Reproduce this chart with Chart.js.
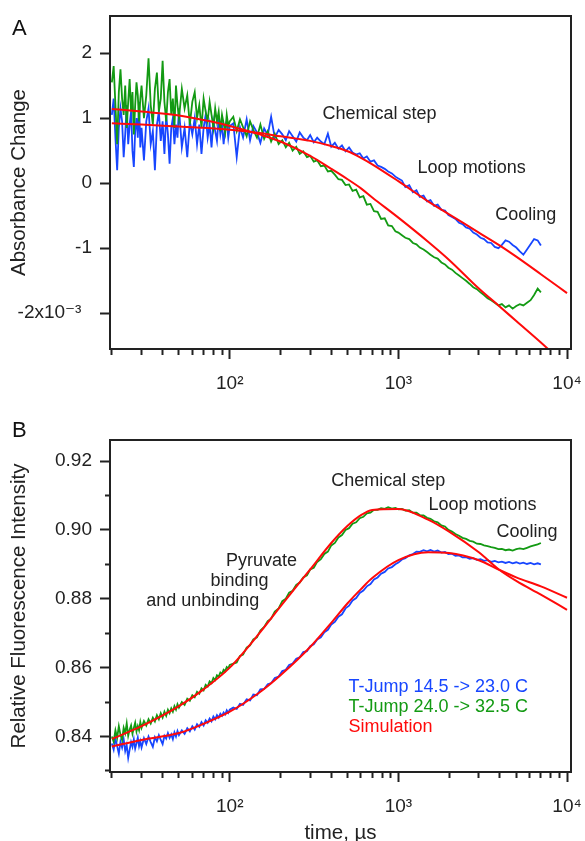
<!DOCTYPE html>
<html><head><meta charset="utf-8">
<script src="https://cdn.jsdelivr.net/npm/chart.js@4.4.1/dist/chart.umd.min.js"></script>
<style>
html,body{margin:0;padding:0;background:#fff;}
#wrap{position:relative;width:585px;height:841px;overflow:hidden;background:#fff;}
canvas{position:absolute;left:0;}
#cA{top:0;} #cB{top:400px;}
</style></head><body>
<div id="wrap"><canvas id="cA" width="585" height="400"></canvas><canvas id="cB" width="585" height="441"></canvas></div>
<script>
// ---------- data (time in microseconds) ----------
const times = [20,20.5,21,21.5,22,22.5,23,23.5,24,24.5,25,25.5,26,26.5,27,27.5,28,28.5,29,29.5,30,
31,32,33,34,35,36,37,38,39,40,41,42,43,44,45,46,47,48,49,50,
52,54,56,58,60,62,64,66,68,70,72,74,76,78,80,82,84,86,88,90,92,94,96,98,100,
105,110,115,120,126,132,138,145,152,160,168,176,185,195,
205,215,225,236,248,260,273,287,300,315,330,347,364,382,400,
420,441,463,486,510,535,562,590,620,650,683,717,753,790,830,870,915,960,1000,
1050,1100,1160,1220,1280,1340,1410,1480,1550,1630,1710,1800,1890,1980,
2080,2180,2290,2400,2520,2650,2780,2920,3070,3220,3380,3550,3730,3920,
4110,4320,4530,4760,5000,5250,5510,5790,6080,6380,6700,7000];

// Panel A: absorbance change (x10^-3)
const absBlue = [1.05,1.30,0.70,0.20,0.85,1.15,0.95,0.40,0.75,1.20,0.60,0.90,1.10,0.50,0.25,0.80,1.00,0.70,1.25,0.55,0.85,
0.35,0.95,1.15,0.60,0.80,0.20,0.90,1.10,0.65,0.95,0.45,1.05,0.75,0.30,0.85,1.00,0.60,0.90,0.70,1.15,
0.55,0.85,0.40,0.95,0.75,1.00,0.60,0.90,0.45,0.85,1.05,0.70,0.90,0.55,0.95,0.80,0.65,1.00,0.75,0.90,0.60,0.85,0.95,0.70,0.88,
0.92,0.40,0.86,0.70,0.98,0.66,0.88,0.78,0.62,0.84,0.74,1.02,0.70,0.82,
0.75,0.66,0.80,0.72,0.64,0.78,0.70,0.66,0.74,0.63,0.70,0.64,0.60,0.76,0.56,
0.62,0.53,0.58,0.49,0.55,0.47,0.44,0.46,0.38,0.41,0.33,0.35,0.27,0.25,0.22,0.18,0.15,0.10,0.07,
0.04,-0.06,-0.03,-0.14,-0.11,-0.21,-0.19,-0.28,-0.26,-0.35,-0.33,-0.41,-0.42,-0.49,
-0.52,-0.55,-0.61,-0.63,-0.68,-0.70,-0.76,-0.79,-0.84,-0.86,-0.91,-0.92,-0.98,-1.00,
-0.95,-0.88,-0.90,-0.95,-0.99,-1.05,-1.10,-1.02,-0.94,-0.86,-0.88,-0.96];
const absGreen = [1.55,1.80,1.20,0.60,1.40,1.75,1.30,1.05,1.50,0.85,1.25,1.60,1.10,1.40,0.75,1.20,1.55,1.35,0.95,1.30,1.50,
1.00,1.35,1.92,1.20,0.90,1.45,1.70,1.10,1.30,1.88,1.25,0.95,1.40,1.60,1.05,1.30,0.85,1.50,1.20,1.00,
1.45,1.15,1.35,0.90,1.25,1.40,1.00,1.20,0.85,1.30,1.10,0.95,1.25,1.05,0.85,1.15,0.95,1.10,0.80,1.05,0.92,0.78,1.05,0.88,0.95,
1.02,0.80,0.98,0.86,0.72,0.95,0.82,0.70,0.90,0.68,0.80,0.64,0.76,0.60,
0.66,0.55,0.62,0.50,0.56,0.45,0.49,0.40,0.42,0.33,0.35,0.26,0.27,0.18,0.19,
0.13,0.06,0.05,-0.03,-0.02,-0.12,-0.10,-0.22,-0.20,-0.33,-0.32,-0.43,-0.44,-0.55,-0.54,-0.65,-0.66,-0.74,-0.76,
-0.80,-0.84,-0.86,-0.92,-0.94,-0.99,-1.02,-1.06,-1.10,-1.14,-1.16,-1.22,-1.25,-1.30,
-1.33,-1.38,-1.42,-1.46,-1.50,-1.55,-1.60,-1.63,-1.68,-1.72,-1.77,-1.80,-1.84,-1.88,
-1.86,-1.91,-1.88,-1.93,-1.89,-1.86,-1.88,-1.84,-1.80,-1.72,-1.62,-1.68];

const simTimes = [20,30,50,70,100,150,200,300,400,500,600,700,1000,1500,2000,3000,4000,5000,7000,10000];
const absSimBlue  = [0.92,0.90,0.87,0.85,0.82,0.77,0.72,0.65,0.57,0.49,0.39,0.29,0.03,-0.28,-0.48,-0.76,-0.96,-1.13,-1.40,-1.69];
const absSimGreen = [1.14,1.10,1.04,0.97,0.88,0.75,0.64,0.42,0.22,0.06,-0.08,-0.22,-0.53,-0.90,-1.18,-1.62,-1.90,-2.12,-2.45,-2.82];

// Panel B: relative fluorescence intensity
const fluBlue = [0.8380,0.8362,0.8395,0.8372,0.8350,0.8385,0.8368,0.8392,0.8358,0.8375,0.8338,0.8362,0.8384,0.8370,0.8392,0.8365,0.8380,0.8397,0.8372,0.8386,0.8368,
0.8395,0.8378,0.8400,0.8384,0.8370,0.8398,0.8386,0.8404,0.8390,0.8378,0.8402,0.8394,0.8410,0.8396,0.8406,0.8392,0.8412,0.8400,0.8416,0.8404,
0.8418,0.8408,0.8424,0.8415,0.8430,0.8420,0.8436,0.8428,0.8442,0.8432,0.8447,0.8440,0.8452,0.8444,0.8458,0.8450,0.8462,0.8455,0.8466,0.8460,0.8470,0.8464,0.8476,0.8469,0.8478,
0.8484,0.8480,0.8495,0.8492,0.8508,0.8505,0.8522,0.8520,0.8537,0.8538,0.8552,0.8555,0.8570,0.8574,
0.8590,0.8594,0.8608,0.8612,0.8626,0.8630,0.8645,0.8648,0.8662,0.8668,0.8682,0.8688,0.8703,0.8710,0.8725,
0.8733,0.8748,0.8755,0.8772,0.8780,0.8795,0.8802,0.8817,0.8824,0.8836,0.8843,0.8856,0.8862,0.8873,0.8878,0.8888,0.8892,0.8900,0.8905,
0.8914,0.8918,0.8926,0.8930,0.8937,0.8936,0.8941,0.8938,0.8942,0.8937,0.8940,0.8934,0.8936,0.8930,
0.8931,0.8925,0.8926,0.8920,0.8921,0.8916,0.8918,0.8913,0.8915,0.8910,0.8912,0.8907,0.8910,0.8906,
0.8908,0.8904,0.8907,0.8903,0.8906,0.8902,0.8905,0.8901,0.8904,0.8900,0.8903,0.8900];
const fluGreen = [0.8400,0.8385,0.8418,0.8396,0.8430,0.8405,0.8390,0.8425,0.8410,0.8438,0.8402,0.8420,0.8432,0.8408,0.8425,0.8440,0.8415,0.8430,0.8418,0.8442,0.8425,
0.8445,0.8432,0.8450,0.8438,0.8455,0.8444,0.8462,0.8450,0.8468,0.8455,0.8472,0.8460,0.8478,0.8468,0.8482,0.8472,0.8488,0.8478,0.8494,0.8484,
0.8500,0.8492,0.8510,0.8504,0.8520,0.8514,0.8530,0.8524,0.8540,0.8534,0.8550,0.8545,0.8560,0.8555,0.8570,0.8564,0.8578,0.8574,0.8586,0.8582,0.8594,0.8590,0.8602,0.8598,0.8608,
0.8612,0.8615,0.8634,0.8638,0.8658,0.8665,0.8682,0.8688,0.8708,0.8718,0.8735,0.8742,0.8763,0.8772,
0.8793,0.8800,0.8818,0.8823,0.8840,0.8847,0.8862,0.8868,0.8885,0.8890,0.8907,0.8915,0.8930,0.8937,0.8955,
0.8962,0.8978,0.8985,0.9000,0.9005,0.9018,0.9022,0.9034,0.9038,0.9048,0.9050,0.9058,0.9058,0.9063,0.9061,0.9066,0.9062,0.9064,0.9060,
0.9061,0.9056,0.9057,0.9050,0.9050,0.9043,0.9042,0.9035,0.9032,0.9025,0.9022,0.9013,0.9010,0.9000,
0.8995,0.8988,0.8983,0.8977,0.8974,0.8968,0.8966,0.8960,0.8959,0.8955,0.8953,0.8950,0.8948,0.8944,
0.8945,0.8941,0.8943,0.8940,0.8944,0.8946,0.8944,0.8948,0.8952,0.8955,0.8958,0.8962];
const fluSimBlue  = [0.8371,0.8390,0.8410,0.8437,0.8472,0.8528,0.8578,0.8660,0.8730,0.8787,0.8828,0.8860,0.8912,0.8935,0.8933,0.8912,0.8883,0.8862,0.8836,0.8803];
const fluSimGreen = [0.8393,0.8430,0.8488,0.8537,0.8600,0.8700,0.8778,0.8885,0.8962,0.9012,0.9043,0.9058,0.9061,0.9030,0.8995,0.8935,0.8883,0.8852,0.8812,0.8768];

// ticks
const xTicks = [20,30,40,50,60,70,80,90,100,200,300,400,500,600,700,800,900,1000,2000,3000,4000,5000,6000,7000,8000,9000,10000];
const xTickLabels = ['','','','','','','','','10\u00B2','','','','','','','','','10\u00B3','','','','','','','','','10\u2074'];
const yTicksA = [-2,-1,0,1,2];
const yTickLabelsA = ['-2x10\u207B\u00B3  ','-1','0','1','2'];
const yTicksB = [0.83,0.84,0.85,0.86,0.87,0.88,0.89,0.90,0.91,0.92];
const yTickLabelsB = ['','0.84','','0.86','','0.88','','0.90','','0.92'];

// text notes (anchored in data space)
const notesA = [
  {text:'Chemical step', t:355, v:0.98},
  {text:'Loop motions', t:1300, v:0.16},
  {text:'Cooling', t:3750, v:-0.57}
];
const notesB = [
  {text:'Chemical step', t:400, v:0.9128},
  {text:'Loop motions', t:1510, v:0.9058},
  {text:'Cooling', t:3820, v:0.8979},
  {text:'Pyruvate', t:95, v:0.8894},
  {text:'binding', t:76.9, v:0.8836},
  {text:'and unbinding', t:32, v:0.8778},
  {text:'T-Jump 14.5 -> 23.0 C', t:506, v:0.8530, color:'#1746ff'},
  {text:'T-Jump 24.0 -> 32.5 C', t:506, v:0.8472, color:'#139a13'},
  {text:'Simulation', t:506, v:0.8414, color:'#ff0a0a'}
];

// ---------- drawing ----------
const FONT = '"Liberation Sans", Arial, "DejaVu Sans", sans-serif';
const INK = '#222';
const BLUE = '#1746ff', GREEN = '#139a13', RED = '#ff0a0a';

const pts = (xs, ys) => xs.map((x, i) => ({x, y: ys[i]}));

const framePlugin = {
  id: 'frameNotes',
  afterDatasetsDraw(chart, args, opts) {
    const {ctx, chartArea: a} = chart;
    const xs = chart.scales.x, ys = chart.scales.y;
    ctx.save();
    ctx.lineWidth = 2; ctx.strokeStyle = INK;
    ctx.strokeRect(a.left, a.top, a.right - a.left, a.bottom - a.top);
    ctx.textAlign = 'left'; ctx.textBaseline = 'alphabetic';
    ctx.font = '18px ' + FONT;
    for (const n of opts.notes) {
      ctx.fillStyle = n.color || INK;
      ctx.fillText(n.text, xs.getPixelForValue(n.t), ys.getPixelForValue(n.v));
    }
    ctx.fillStyle = '#111';
    ctx.font = '22px ' + FONT;
    ctx.fillText(opts.panel, 12, opts.panelY);
    ctx.restore();
  }
};

function xAxis(height, title) {
  return {
    type: 'logarithmic', min: 19.5, max: 10560,
    afterBuildTicks: s => { s.ticks = xTicks.map(v => ({value: v})); },
    afterFit: s => { s.height = height; s.paddingLeft = 0; s.paddingRight = 0; },
    ticks: {autoSkip: false, maxRotation: 0, minRotation: 0, padding: 13, color: INK,
      font: {family: FONT, size: 19}, callback: (v, i) => xTickLabels[i]},
    grid: {drawOnChartArea: false, tickLength: 10, tickWidth: 2, tickColor: INK,
      tickBorderDash: c => (xTickLabels[c.index] ? [] : [5, 60])},
    border: {display: true, width: 2, color: INK},
    title: title ? {display: true, text: title, color: INK, font: {family: FONT, size: 20.5, lineHeight: 0.7}, padding: {top: 0, bottom: 0}} : {display: false}
  };
}
function yAxis(min, max, tv, tl, title) {
  return {
    type: 'linear', min, max,
    afterBuildTicks: s => { s.ticks = tv.map(v => ({value: v})); },
    afterFit: s => { s.width = 110; s.paddingTop = 0; s.paddingBottom = 0; },
    ticks: {autoSkip: false, padding: 8, color: INK, font: {family: FONT, size: 19}, callback: (v, i) => tl[i]},
    grid: {drawOnChartArea: false, tickLength: 10, tickWidth: 2, tickColor: INK,
      tickBorderDash: c => (tl[c.index] ? [] : [0, 5, 6, 60])},
    border: {display: true, width: 2, color: INK},
    title: {display: true, text: title, color: INK, font: {family: FONT, size: 20.5}, padding: {top: 7, bottom: 0}}
  };
}
function ds(label, data, color, width, order, smooth) {
  return {label, data, borderColor: color, backgroundColor: color, borderWidth: width,
    pointRadius: 0, fill: false, order, tension: 0,
    cubicInterpolationMode: smooth ? 'monotone' : 'default'};
}

Chart.defaults.font.family = FONT;
Chart.defaults.animation = false;

new Chart(document.getElementById('cA'), {
  type: 'line',
  data: {datasets: [
    ds('Simulation (14.5 -> 23.0 C)', pts(simTimes, absSimBlue), RED, 2, 0, true),
    ds('Simulation (24.0 -> 32.5 C)', pts(simTimes, absSimGreen), RED, 2, 0, true),
    ds('T-Jump 24.0 -> 32.5 C', pts(times, absGreen), GREEN, 1.8, 1, false),
    ds('T-Jump 14.5 -> 23.0 C', pts(times, absBlue), BLUE, 1.8, 2, false)
  ]},
  options: {
    responsive: false, devicePixelRatio: 1, animation: false,
    layout: {padding: {left: 0, top: 16, right: 14, bottom: 0}},
    plugins: {legend: {display: false}, tooltip: {enabled: false},
      frameNotes: {notes: notesA, panel: 'A', panelY: 35}},
    scales: {x: xAxis(51, ''), y: yAxis(-2.55, 2.57, yTicksA, yTickLabelsA, 'Absorbance Change')}
  },
  plugins: [framePlugin]
});

new Chart(document.getElementById('cB'), {
  type: 'line',
  data: {datasets: [
    ds('Simulation (14.5 -> 23.0 C)', pts(simTimes, fluSimBlue), RED, 2, 0, true),
    ds('Simulation (24.0 -> 32.5 C)', pts(simTimes, fluSimGreen), RED, 2, 0, true),
    ds('T-Jump 24.0 -> 32.5 C', pts(times, fluGreen), GREEN, 1.8, 1, false),
    ds('T-Jump 14.5 -> 23.0 C', pts(times, fluBlue), BLUE, 1.8, 2, false)
  ]},
  options: {
    responsive: false, devicePixelRatio: 1, animation: false,
    layout: {padding: {left: 0, top: 40, right: 14, bottom: 0}},
    plugins: {legend: {display: false}, tooltip: {enabled: false},
      frameNotes: {notes: notesB, panel: 'B', panelY: 37}},
    scales: {x: xAxis(69, 'time, \u00B5s'), y: yAxis(0.8297, 0.9261, yTicksB, yTickLabelsB, 'Relative Fluorescence Intensity')}
  },
  plugins: [framePlugin]
});
</script>
</body></html>
